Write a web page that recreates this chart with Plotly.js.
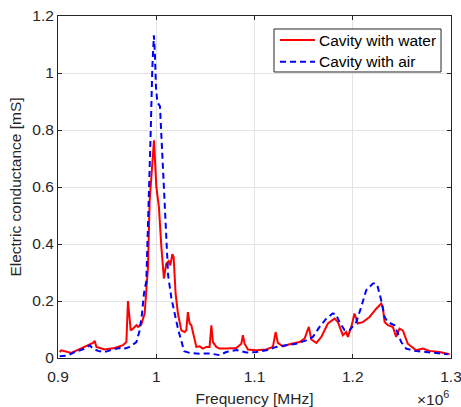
<!DOCTYPE html>
<html>
<head>
<meta charset="utf-8">
<script src="https://cdn.plot.ly/plotly-3.0.1.min.js"></script>
<style>
html,body{margin:0;padding:0;background:#fff;}
#chart{width:461px;height:407px;}
</style>
</head>
<body>
<div id="chart"></div>
<script>
// Frequency in MHz (axis shows x10^6 Hz), conductance in mS
const waterFreq = [0.9017,0.9033,0.9136,0.9238,0.9305,0.9356,0.9373,0.9391,0.9475,0.9577,0.9661,0.9696,0.9712,0.9740,0.9763,0.9798,0.9814,0.9848,0.9882,0.9899,0.9916,0.9933,0.9977,1.0001,1.0027,1.0052,1.0078,1.0102,1.0126,1.0143,1.0164,1.0177,1.0197,1.0221,1.0255,1.0289,1.0306,1.0322,1.0340,1.0357,1.0384,1.0408,1.0441,1.0475,1.0510,1.0543,1.0561,1.0577,1.0611,1.0645,1.0713,1.0764,1.0815,1.0866,1.0882,1.0899,1.0933,1.1018,1.1120,1.1187,1.1215,1.1238,1.1289,1.1357,1.1459,1.1510,1.1553,1.1578,1.1629,1.1680,1.1747,1.1815,1.1849,1.1899,1.1934,1.1950,1.1985,1.2018,1.2036,1.2052,1.2103,1.2171,1.2239,1.2290,1.2306,1.2324,1.2357,1.2408,1.2442,1.2476,1.2510,1.2560,1.2646,1.2713,1.2781,1.2883,1.2985];
const waterG = [0.021,0.027,0.018,0.033,0.045,0.053,0.060,0.039,0.030,0.035,0.045,0.056,0.200,0.097,0.103,0.115,0.109,0.118,0.156,0.260,0.320,0.553,0.764,0.600,0.530,0.390,0.279,0.331,0.340,0.325,0.364,0.354,0.226,0.156,0.097,0.091,0.097,0.161,0.121,0.115,0.068,0.039,0.041,0.033,0.039,0.039,0.115,0.056,0.039,0.033,0.033,0.033,0.035,0.050,0.080,0.050,0.030,0.027,0.030,0.039,0.091,0.053,0.041,0.048,0.056,0.068,0.109,0.065,0.053,0.074,0.121,0.138,0.126,0.080,0.091,0.074,0.109,0.156,0.138,0.121,0.126,0.144,0.173,0.191,0.179,0.126,0.115,0.109,0.074,0.103,0.097,0.050,0.027,0.033,0.025,0.021,0.013];

const airFreq = [0.9017,0.9102,0.9170,0.9272,0.9322,0.9356,0.9407,0.9475,0.9560,0.9628,0.9661,0.9729,0.9798,0.9831,0.9855,0.9875,0.9899,0.9916,0.9933,0.9943,0.9960,0.9976,0.9986,0.9997,1.0011,1.0038,1.0052,1.0068,1.0082,1.0099,1.0121,1.0154,1.0192,1.0221,1.0255,1.0284,1.0340,1.0441,1.0543,1.0645,1.0713,1.0815,1.0917,1.1018,1.1120,1.1222,1.1323,1.1425,1.1527,1.1594,1.1662,1.1730,1.1794,1.1825,1.1866,1.1917,1.1967,1.2036,1.2086,1.2137,1.2205,1.2227,1.2255,1.2290,1.2324,1.2357,1.2425,1.2459,1.2493,1.2544,1.2629,1.2748,1.2849,1.2967];
const airG = [0.006,0.009,0.021,0.033,0.045,0.033,0.025,0.021,0.030,0.035,0.031,0.039,0.056,0.097,0.156,0.226,0.270,0.436,0.670,0.787,1.020,1.132,1.070,0.951,0.898,0.883,0.787,0.650,0.530,0.430,0.290,0.210,0.145,0.103,0.060,0.024,0.018,0.015,0.016,0.010,0.021,0.028,0.019,0.021,0.027,0.039,0.045,0.050,0.062,0.074,0.109,0.138,0.156,0.155,0.126,0.097,0.097,0.126,0.179,0.238,0.261,0.263,0.249,0.202,0.144,0.126,0.115,0.086,0.056,0.033,0.025,0.021,0.018,0.013];

const seriesNames = ['Cavity with water', 'Cavity with air'];
const xTickVals = [0.9, 1.0, 1.1, 1.2, 1.3];
const xTickText = ['0.9', '1', '1.1', '1.2', '1.3'];
const yTickVals = [0, 0.2, 0.4, 0.6, 0.8, 1.0, 1.2];
const yTickText = ['0', '0.2', '0.4', '0.6', '0.8', '1', '1.2'];

const FONT = 'Liberation Sans, Arial, Helvetica, sans-serif';
const AX = '#262626';
const FS = 15.5;
const RED = '#ff0000', BLUE = '#0000ff', DASH = '6px,4px';

const traces = [
  {x: waterFreq, y: waterG, type: 'scatter', mode: 'lines', name: seriesNames[0],
   line: {color: RED, width: 2}},
  {x: airFreq, y: airG, type: 'scatter', mode: 'lines', name: seriesNames[1],
   line: {color: BLUE, width: 2, dash: DASH}}
];

// custom compact legend (paper coordinates)
const LG = {x0: 0.5496, x1: 0.9746, y0: 0.8363, y1: 0.962,
            lx0: 0.5649, lx1: 0.6539, tx: 0.659, rows: [0.9298, 0.8664]};

const layout = {
  width: 461, height: 407,
  margin: {l: 58, r: 10, t: 16, b: 49},
  paper_bgcolor: '#ffffff', plot_bgcolor: '#ffffff',
  font: {family: FONT, size: FS, color: AX},
  showlegend: false,
  xaxis: {range: [0.9, 1.3], tickvals: xTickVals, ticktext: xTickText,
          showgrid: true, gridcolor: '#e3e3e3', gridwidth: 1,
          ticks: 'inside', ticklen: 4, tickcolor: AX,
          showline: true, linecolor: AX, linewidth: 1, mirror: 'ticks',
          zeroline: false, tickfont: {size: FS, color: AX},
          ticklabeloverflow: 'allow', ticklabelstandoff: 4,
          title: {text: 'Frequency [MHz]', font: {size: FS, color: AX}, standoff: 9}},
  yaxis: {range: [0, 1.2], tickvals: yTickVals, ticktext: yTickText,
          showgrid: true, gridcolor: '#e3e3e3', gridwidth: 1,
          ticks: 'inside', ticklen: 4, tickcolor: AX,
          showline: true, linecolor: AX, linewidth: 1, mirror: 'ticks',
          zeroline: false, tickfont: {size: FS, color: AX},
          title: {text: 'Electric conductance [mS]', font: {size: FS, color: AX}, standoff: 6}},
  shapes: [
    {type: 'rect', xref: 'paper', yref: 'paper', x0: LG.x0, x1: LG.x1, y0: LG.y0, y1: LG.y1,
     fillcolor: '#ffffff', line: {color: AX, width: 1}, layer: 'above'},
    {type: 'line', xref: 'paper', yref: 'paper', x0: LG.lx0, x1: LG.lx1, y0: LG.rows[0], y1: LG.rows[0],
     line: {color: RED, width: 2}, layer: 'above'},
    {type: 'line', xref: 'paper', yref: 'paper', x0: LG.lx0, x1: LG.lx1, y0: LG.rows[1], y1: LG.rows[1],
     line: {color: BLUE, width: 2, dash: DASH}, layer: 'above'}
  ],
  annotations: [
    {xref: 'paper', yref: 'paper', x: LG.tx, y: LG.rows[0], xanchor: 'left', yanchor: 'middle',
     showarrow: false, text: seriesNames[0], font: {family: FONT, size: FS, color: '#000'}},
    {xref: 'paper', yref: 'paper', x: LG.tx, y: LG.rows[1], xanchor: 'left', yanchor: 'middle',
     showarrow: false, text: seriesNames[1], font: {family: FONT, size: FS, color: '#000'}},
    {xref: 'paper', yref: 'paper', x: 1.0, y: -0.153,
     xanchor: 'right', yanchor: 'bottom', showarrow: false,
     text: '×10<sup>6</sup>', font: {family: FONT, size: FS, color: AX}}
  ]
};

Plotly.newPlot('chart', traces, layout, {displayModeBar: false, staticPlot: true});
</script>
</body>
</html>
